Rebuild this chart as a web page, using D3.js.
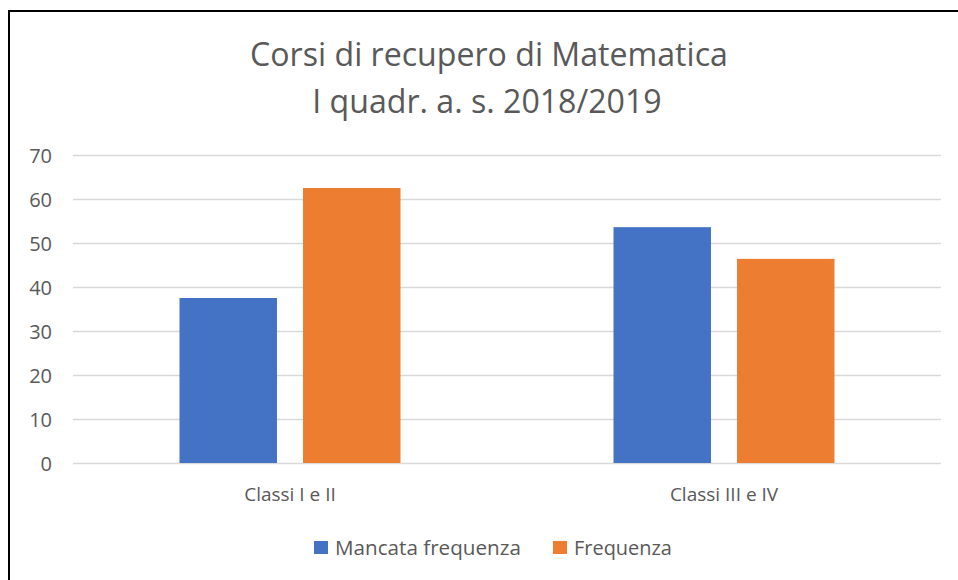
<!DOCTYPE html>
<html>
<head>
<meta charset="utf-8">
<script src="https://cdn.jsdelivr.net/npm/d3@7"></script>
<style>
  body { margin: 0; background: #fff; }
  text { font-family: "Open Sans", "Noto Sans", sans-serif; fill: #595959; }
</style>
</head>
<body>
<div id="wrapper"></div>
<script>
// data
const categories = ["Classi I e II", "Classi III e IV"]
const seriesNames = ["Mancata frequenza", "Frequenza"]
const mancata = [37.5, 53.6]
const frequenza = [62.5, 46.4]
const yTicks = [0, 10, 20, 30, 40, 50, 60, 70]
const titleLines = ["Corsi di recupero di Matematica", "I quadr. a. s. 2018/2019"]
const colors = ["#4472C4", "#ED7D31"]

const dataset = categories.map((c, i) => ({
    category: c,
    values: [mancata[i], frequenza[i]]
}))

const width = 958
const height = 580
const plot = { left: 73, right: 941, top: 155, bottom: 463 }

const svg = d3.select("#wrapper").append("svg")
    .attr("width", width)
    .attr("height", height)

// outer frame (open on the right and bottom, as in the screenshot)
svg.append("rect")
    .attr("x", 9).attr("y", 11)
    .attr("width", width + 20).attr("height", height + 20)
    .attr("fill", "none")
    .attr("stroke", "#000")
    .attr("stroke-width", 2)

// fit text to a target width
function fit(sel, target) {
    const base = parseFloat(sel.attr("font-size"))
    const w = sel.node().getComputedTextLength()
    sel.attr("font-size", base * target / w)
    return sel
}

// scales
const yScale = d3.scaleLinear().domain([0, 70]).range([plot.bottom, plot.top])
const x0 = d3.scaleBand().domain(categories).range([plot.left, plot.right])
const groupW = 221
const x1 = d3.scaleBand().domain(seriesNames)
    .range([(x0.bandwidth() - groupW) / 2, (x0.bandwidth() + groupW) / 2])
    .paddingInner(0.211)

// gridlines
const yAxis = d3.axisLeft(yScale).tickValues(yTicks)
    .tickSize(-(plot.right - plot.left)).tickPadding(21)
const yG = svg.append("g")
    .attr("transform", `translate(${plot.left},0)`)
    .call(yAxis)
yG.select(".domain").remove()
yG.selectAll(".tick line").attr("stroke", "#D9D9D9").attr("stroke-width", 1.3)
yG.selectAll(".tick text")
    .attr("font-size", 20)
    .attr("fill", "#595959")
    .attr("dy", "0.36em")
    .style("font-family", "'Open Sans', sans-serif")

// bars
const groups = svg.append("g").selectAll("g")
    .data(dataset)
    .join("g")
    .attr("transform", d => `translate(${x0(d.category)},0)`)

groups.selectAll("rect")
    .data(d => d.values.map((v, i) => ({ series: seriesNames[i], value: v, i })))
    .join("rect")
    .attr("x", d => x1(d.series))
    .attr("width", x1.bandwidth())
    .attr("y", d => yScale(d.value))
    .attr("height", d => yScale(0) - yScale(d.value))
    .attr("fill", d => colors[d.i])

// x labels
const xAxis = d3.axisBottom(x0).tickSize(0).tickPadding(25)
const xG = svg.append("g")
    .attr("transform", `translate(0,${plot.bottom})`)
    .call(xAxis)
xG.select(".domain").remove()
xG.selectAll(".tick text")
    .attr("font-size", 19)
    .attr("fill", "#595959")
    .style("font-family", "'Open Sans', sans-serif")

// title
const t1 = svg.append("text")
    .attr("x", 489).attr("y", 66)
    .attr("text-anchor", "middle")
    .attr("font-size", 30)
    .text(titleLines[0])
fit(t1, 478)
svg.append("text")
    .attr("x", 487).attr("y", 113)
    .attr("text-anchor", "middle")
    .attr("font-size", t1.attr("font-size"))
    .text(titleLines[1])

// legend
const legendX = [314, 553]
const legendTextW = [186, 98]
seriesNames.forEach((name, i) => {
    svg.append("rect")
        .attr("x", legendX[i]).attr("y", 541)
        .attr("width", 14).attr("height", 13)
        .attr("fill", colors[i])
    const lt = svg.append("text")
        .attr("x", legendX[i] + 21).attr("y", 555)
        .attr("font-size", 20)
        .text(name)
    fit(lt, legendTextW[i])
})
</script>
</body>
</html>
